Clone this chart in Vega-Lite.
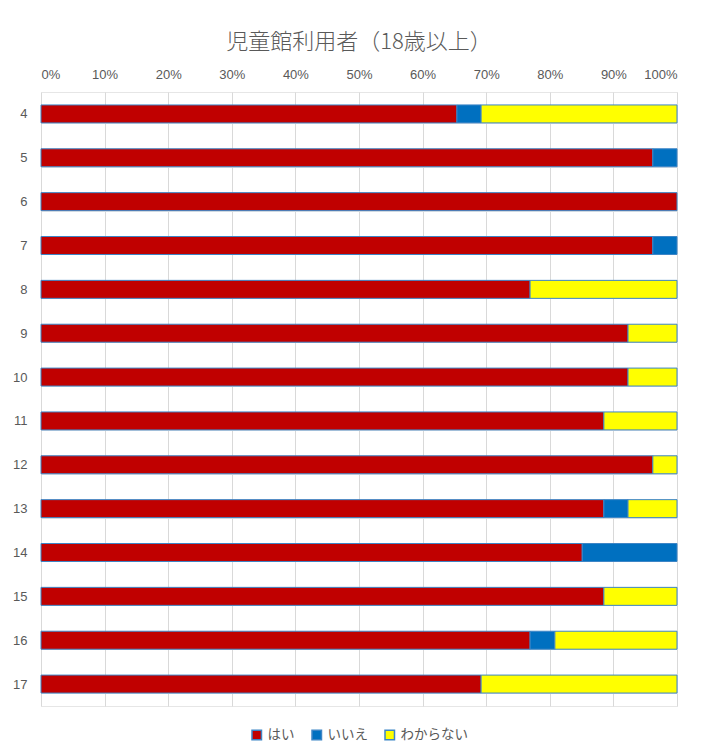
{
  "$schema": "https://vega.github.io/schema/vega-lite/v6.json",
  "autosize": {"type": "none"},
  "width": 636,
  "height": 614,
  "padding": {"left": 41, "top": 92, "right": 33, "bottom": 45},
  "background": "white",
  "title": {
    "text": "児童館利用者（18歳以上）",
    "font": "Noto Sans CJK JP",
    "fontSize": 22,
    "fontWeight": 300,
    "color": "#595959",
    "anchor": "middle",
    "offset": 14
  },
  "data": {
    "values": [
      {"g": "4", "a": "はい", "v": 65.4},
      {"g": "4", "a": "いいえ", "v": 3.8},
      {"g": "4", "a": "わからない", "v": 30.8},
      {"g": "5", "a": "はい", "v": 96.2},
      {"g": "5", "a": "いいえ", "v": 3.8},
      {"g": "6", "a": "はい", "v": 100},
      {"g": "7", "a": "はい", "v": 96.2},
      {"g": "7", "a": "いいえ", "v": 3.8},
      {"g": "8", "a": "はい", "v": 76.9},
      {"g": "8", "a": "わからない", "v": 23.1},
      {"g": "9", "a": "はい", "v": 92.3},
      {"g": "9", "a": "わからない", "v": 7.7},
      {"g": "10", "a": "はい", "v": 92.3},
      {"g": "10", "a": "わからない", "v": 7.7},
      {"g": "11", "a": "はい", "v": 88.5},
      {"g": "11", "a": "わからない", "v": 11.5},
      {"g": "12", "a": "はい", "v": 96.2},
      {"g": "12", "a": "わからない", "v": 3.8},
      {"g": "13", "a": "はい", "v": 88.5},
      {"g": "13", "a": "いいえ", "v": 3.8},
      {"g": "13", "a": "わからない", "v": 7.7},
      {"g": "14", "a": "はい", "v": 85.1},
      {"g": "14", "a": "いいえ", "v": 14.9},
      {"g": "15", "a": "はい", "v": 88.5},
      {"g": "15", "a": "わからない", "v": 11.5},
      {"g": "16", "a": "はい", "v": 76.9},
      {"g": "16", "a": "いいえ", "v": 3.9},
      {"g": "16", "a": "わからない", "v": 19.2},
      {"g": "17", "a": "はい", "v": 69.2},
      {"g": "17", "a": "わからない", "v": 30.8}
    ]
  },
  "transform": [
    {"calculate": "indexof(['はい','いいえ','わからない'], datum.a)", "as": "ord"}
  ],
  "mark": {"type": "bar", "stroke": "#3d85c6", "strokeWidth": 1},
  "encoding": {
    "y": {
      "field": "g",
      "type": "nominal",
      "sort": ["4","5","6","7","8","9","10","11","12","13","14","15","16","17"],
      "scale": {"paddingInner": 0.59, "paddingOuter": 0.295},
      "axis": {
        "title": null,
        "domain": false,
        "ticks": false,
        "grid": true,
        "tickBand": "extent",
        "gridColor": "#e6e6e6",
        "labelPadding": 14,
        "labelFont": "Liberation Sans",
        "labelFontSize": 13,
        "labelColor": "#595959"
      }
    },
    "x": {
      "field": "v",
      "type": "quantitative",
      "stack": "normalize",
      "axis": {
        "orient": "top",
        "title": null,
        "format": ".0%",
        "values": [0,0.1,0.2,0.3,0.4,0.5,0.6,0.7,0.8,0.9,1],
        "labelOverlap": false,
        "labelBound": false,
        "domain": false,
        "ticks": false,
        "grid": true,
        "gridColor": "#d9d9d9",
        "labelPadding": 11,
        "labelFont": "Liberation Sans",
        "labelFontSize": 13,
        "labelColor": "#595959"
      }
    },
    "color": {
      "field": "a",
      "type": "nominal",
      "sort": ["はい", "いいえ", "わからない"],
      "scale": {"domain": ["はい", "いいえ", "わからない"], "range": ["#c00000", "#0070c0", "#ffff00"]},
      "legend": {
        "title": null,
        "orient": "bottom",
        "direction": "horizontal",
        "offset": 22,
        "symbolType": "square",
        "symbolSize": 90,
        "symbolStrokeColor": "#3d85c6",
        "symbolStrokeWidth": 1.5,
        "labelFont": "Noto Sans CJK JP",
        "labelFontSize": 13.5,
        "labelColor": "#595959",
        "columnPadding": 14
      }
    },
    "order": {"field": "ord", "type": "quantitative"}
  },
  "config": {
    "view": {"stroke": "#e6e6e6"},
    "legend": {"layout": {"bottom": {"anchor": "middle"}}}
  }
}
